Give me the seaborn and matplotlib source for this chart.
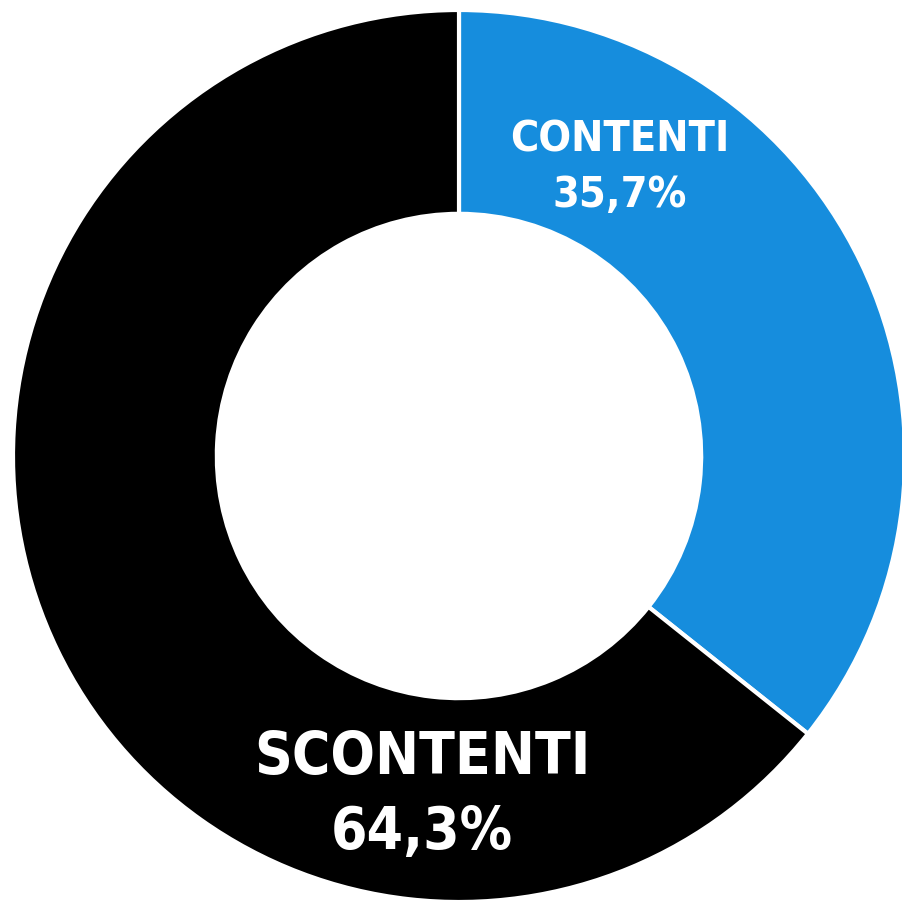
import matplotlib.pyplot as plt
import seaborn as sns

# dati
labels = ['CONTENTI', 'SCONTENTI']
values = [35.7, 64.3]
colors = ['#168ddd', '#000000']
pct_text = ['35,7%', '64,3%']

sns.set_theme(style='white')
plt.rcParams['font.family'] = ['DejaVu Sans']

fig = plt.figure(figsize=(9.03, 9.01), dpi=100)
# area dell'asse: centro (459, 456) px, raggio 446 px
ax = fig.add_axes([(459 - 446) / 903, (901 - 456 - 446) / 901, 892 / 903, 892 / 901])

ax.pie(values, colors=colors, startangle=90, counterclock=False, radius=1,
       wedgeprops=dict(width=0.457, edgecolor='white', linewidth=3))
ax.set_xlim(-1, 1)
ax.set_ylim(-1, 1)
ax.set_aspect('equal')
ax.axis('off')

# etichette
txt = dict(ha='center', va='center', color='white', fontweight='bold',
           fontstretch='condensed')
ax.text(0.361, 0.71, labels[0], fontsize=31, **txt)
ax.text(0.361, 0.585, pct_text[0], fontsize=31, **txt)
ax.text(-0.083, -0.675, labels[1], fontsize=42, **txt)
ax.text(-0.083, -0.845, pct_text[1], fontsize=42, **txt)

fig.savefig('out.png', dpi=100)
